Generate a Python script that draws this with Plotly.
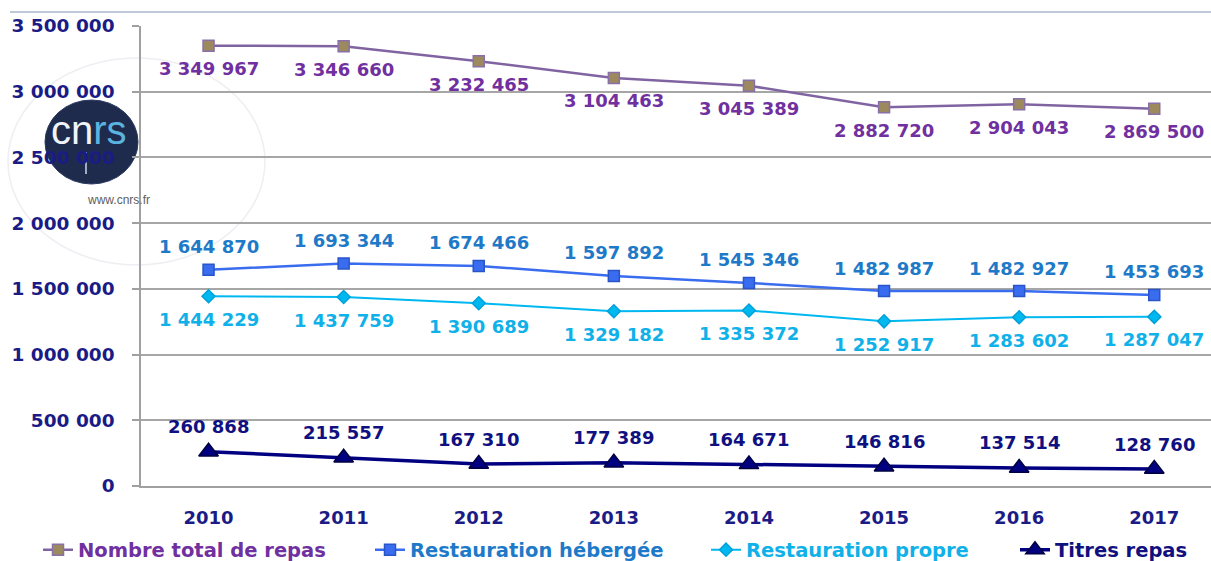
import plotly.graph_objects as go

years = ["2010", "2011", "2012", "2013", "2014", "2015", "2016", "2017"]
total_repas = [3349967, 3346660, 3232465, 3104463, 3045389, 2882720, 2904043, 2869500]
rest_hebergee = [1644870, 1693344, 1674466, 1597892, 1545346, 1482987, 1482927, 1453693]
rest_propre = [1444229, 1437759, 1390689, 1329182, 1335372, 1252917, 1283602, 1287047]
titres_repas = [260868, 215557, 167310, 177389, 164671, 146816, 137514, 128760]


def fmt(v):
    return f"{v:,}".replace(",", " ")


W, H = 1211, 561
L, R, T, B = 141, 0, 26, 75
PW, PH = W - L - R, H - T - B


def px(x):
    return (x - L) / PW


def py(y):
    return (H - B - y) / PH


FONT = "DejaVu Sans"
NAVY = "#1b1b86"

# name, values, line colour, label colour, symbol, size, fill, edge, width, label shift, legend id, legend text start
series = [
    ("Nombre total de repas", total_repas, "#8064a2", "#7030a0", "square", 11, "#9c8a5e", "#8a70a8", 2.5, -23, "legend", 80),
    ("Restauration hébergée", rest_hebergee, "#3a6cf0", "#1e7ac8", "square", 11, "#3a6cf0", "#2a55c8", 2.5, 23, "legend2", 412),
    ("Restauration propre", rest_propre, "#00b8f0", "#10b0e8", "diamond", 10, "#00b8f0", "#00a0d8", 2, -23, "legend3", 748),
    ("Titres repas", titres_repas, "#000080", "#101080", "triangle-up", 17, "#000080", "#000040", 3.5, 25, "legend4", 1057),
]

fig = go.Figure()
annotations = []
legends = {}
for name, vals, lc, tc, sym, ms, mfill, mline, lw, shift, leg, tx in series:
    fig.add_trace(go.Scatter(
        x=years, y=vals, mode="lines+markers", name=name, legend=leg,
        line=dict(color=lc, width=lw),
        marker=dict(symbol=sym, size=ms, color=mfill, line=dict(color=mline, width=1.5)),
        cliponaxis=False,
    ))
    for i, v in enumerate(vals):
        annotations.append(dict(
            x=i, y=v, xref="x", yref="y", text=fmt(v), showarrow=False,
            yshift=shift, xanchor="center", yanchor="middle",
            font=dict(family=FONT, size=18, color=tc, weight="bold"),
        ))
    legends[leg] = dict(
        orientation="h", x=px(tx - 42), y=py(550), xanchor="left", yanchor="middle",
        font=dict(family=FONT, size=19.5, weight="bold", color=tc),
        bgcolor="rgba(0,0,0,0)", borderwidth=0, itemwidth=30,
    )

shapes = [
    dict(type="line", xref="paper", yref="paper", x0=px(10), x1=px(1211), y0=py(12), y1=py(12),
         line=dict(color="#aab8cc", width=1.5), layer="below"),
    dict(type="circle", xref="paper", yref="paper", x0=px(8), x1=px(265), y0=py(265), y1=py(58),
         line=dict(color="#eeeef3", width=1.5), layer="below"),
    dict(type="circle", xref="paper", yref="paper", x0=px(45), x1=px(138), y0=py(184), y1=py(100),
         fillcolor="#1f2b4c", line=dict(color="#2a3a60", width=1), layer="below"),
    dict(type="line", xref="paper", yref="paper", x0=px(86), x1=px(86), y0=py(152), y1=py(174),
         line=dict(color="#d0d8e8", width=1.5), layer="below"),
]

annotations += [
    dict(xref="paper", yref="paper", x=px(89), y=py(130), showarrow=False,
         text="<span style='color:#f0f4fa'>cn</span><span style='color:#5ab4e0'>rs</span>",
         font=dict(family="Liberation Sans", size=40), xanchor="center", yanchor="middle"),
    dict(xref="paper", yref="paper", x=px(118), y=py(200), showarrow=False,
         text="www.cnrs.fr", font=dict(family="Liberation Sans", size=12, color="#606060"),
         xanchor="center", yanchor="middle"),
]

fig.update_layout(
    width=W, height=H,
    margin=dict(l=L, r=R, t=T, b=B, autoexpand=False),
    paper_bgcolor="white", plot_bgcolor="white",
    separators=", ",
    showlegend=True,
    shapes=shapes, annotations=annotations,
    xaxis=dict(type="category", range=[-0.5, 7.42], showgrid=False, showline=True,
               linecolor="#a0a0a0", linewidth=1.5, ticks="", ticklabelstandoff=15,
               tickfont=dict(family=FONT, size=18, color=NAVY, weight="bold")),
    yaxis=dict(range=[0, 3500000], dtick=500000, tickformat=",d", showgrid=True,
               gridcolor="#a6a6a6", gridwidth=1.5, zeroline=False, showline=True,
               linecolor="#a0a0a0", linewidth=1.5, ticks="outside", ticklen=7,
               tickcolor="#a0a0a0", tickwidth=1.5, ticklabelstandoff=14,
               tickfont=dict(family=FONT, size=18.5, color=NAVY, weight="bold")),
    **legends,
)

fig.write_html("out.html", config={"displayModeBar": False},
               post_script="document.body.style.margin='0';document.body.style.overflow='hidden';")
